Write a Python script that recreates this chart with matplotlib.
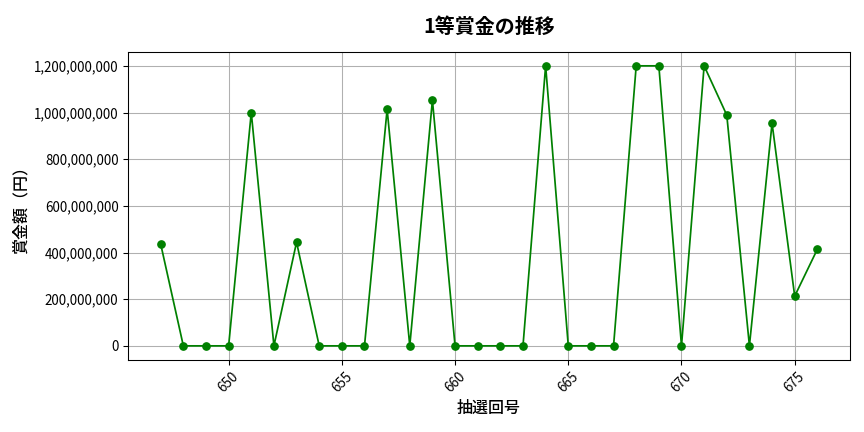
import matplotlib
matplotlib.use("Agg")
import matplotlib.pyplot as plt
from matplotlib.ticker import FuncFormatter

plt.rcParams['font.family'] = ['Noto Sans CJK JP', 'DejaVu Sans']

draws = list(range(647, 677))
prizes = [436e6, 0, 0, 0, 1000e6, 0, 444e6, 0, 0, 0,
          1014e6, 0, 1053e6, 0, 0, 0, 0, 1200e6, 0, 0,
          0, 1200e6, 1200e6, 0, 1200e6, 989e6, 0, 954e6, 213e6, 414e6]

fig, ax = plt.subplots(figsize=(9, 4.5), dpi=96)
fig.subplots_adjust(left=0.148, right=0.984, top=0.88, bottom=0.167)
ax.plot(draws, prizes, color='green', marker='o', markersize=5.5, linewidth=1.3)
ax.set_title('1等賞金の推移', fontsize=15, fontweight='bold', pad=14)
ax.set_xlabel('抽選回号', fontsize=12, labelpad=4, fontweight='medium')
ax.set_ylabel('賞金額（円）', fontsize=12, labelpad=3, fontweight='medium')
ax.yaxis.set_major_formatter(FuncFormatter(lambda v, p: f'{int(v):,}'))
ax.tick_params(axis='both', labelsize=10)
ax.tick_params(axis='x', rotation=45)
ax.grid(True)
fig.savefig('out.png', dpi=96)
